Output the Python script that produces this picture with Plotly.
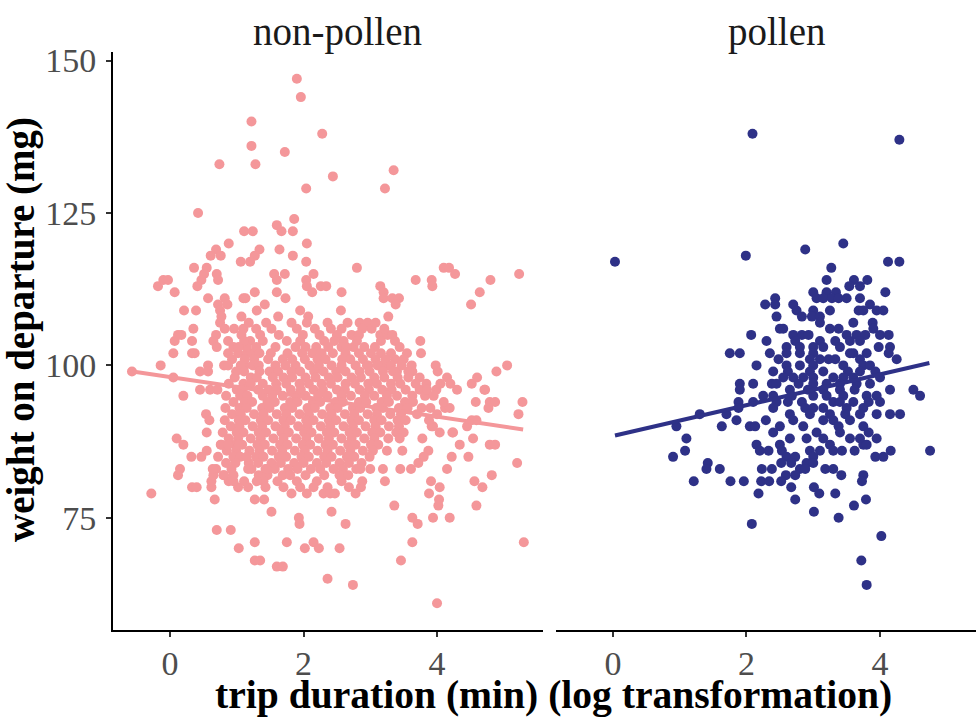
"""Trip duration vs weight on departure, faceted by pollen load."""

import plotly.graph_objects as go

# ---- data (duration on log scale, weight in mg) ----
nonpollen_upper = [
    (1.90, 147), (1.96, 144), (1.22, 140), (2.28, 138), (1.22, 136), (1.72, 135),
    (0.74, 133), (1.28, 133), (2.44, 131), (3.35, 132), (2.04, 129), (3.22, 129),
    (0.42, 125), (1.86, 124), (1.60, 123), (1.67, 122), (1.11, 122), (1.24, 122),
    (1.84, 122), (0.88, 120), (2.05, 120), (0.69, 119), (0.61, 118), (0.76, 118),
    (1.34, 119), (1.27, 118), (1.20, 117), (1.06, 117), (1.64, 119), (1.84, 118),
    (2.04, 117), (0.36, 116), (0.55, 116), (0.51, 115), (0.47, 114), (0.41, 113),
    (0.70, 115), (0.72, 114), (-0.18, 113), (-0.10, 114), (-0.03, 114), (0.07, 112),
    (1.56, 115), (1.72, 115), (1.60, 114), (1.60, 112), (2.15, 115), (2.04, 114),
    (2.05, 113), (2.13, 112), (2.26, 113), (2.34, 113), (1.27, 112), (2.57, 112),
    (0.57, 111), (0.21, 109), (0.39, 109), (2.80, 116), (2.56, 109), (1.73, 111),
    (1.10, 111), (1.13, 111), (0.82, 111), (1.42, 110), (1.30, 109), (0.72, 110),
    (0.86, 110), (1.95, 109), (2.07, 108), (1.62, 108), (1.07, 108), (3.68, 114),
    (3.92, 114), (3.93, 113), (4.10, 116), (4.18, 116), (4.27, 115), (5.23, 115),
    (4.80, 114), (4.64, 112), (4.51, 110), (3.15, 113), (3.20, 112), (3.20, 111),
    (3.33, 111), (3.43, 111), (3.38, 110), (3.27, 108), (2.84, 107), (2.96, 107),
    (0.75, 109), (0.77, 108), (0.75, 107),
]

nonpollen_middle = [
    (0.35, 106), (0.12, 105), (0.07, 104), (0.05, 102), (0.17, 105), (0.33, 104),
    (0.33, 102), (0.37, 102), (-0.14, 100), (0.05, 98), (0.45, 99), (0.57, 100),
    (0.57, 99), (0.81, 100), (0.87, 102), (0.69, 105), (0.65, 104), (0.70, 103),
    (0.82, 106), (0.87, 104), (0.95, 103), (1.02, 102), (1.15, 102), (1.22, 102),
    (1.12, 100), (1.10, 106), (1.20, 104), (1.15, 103), (3.02, 106), (3.15, 105),
    (3.26, 105), (3.16, 104), (3.75, 104), (3.76, 102), (3.37, 101), (3.40, 99),
    (3.63, 99), (4.01, 99), (2.95, 100), (3.14, 100), (3.26, 100), (4.52, 97),
    (4.60, 98), (4.72, 96), (4.89, 99), (5.05, 100), (2.57, 106), (2.50, 105),
    (2.60, 104), (2.72, 105), (2.75, 103), (2.57, 103), (-0.57, 99),
]

nonpollen_core_top = [
    (1.18, 107), (1.44, 107), (1.82, 107), (2.05, 107), (2.36, 107), (2.66, 107), (3.08, 107),
    (0.96, 106), (1.29, 106), (1.52, 106), (1.90, 106), (2.17, 106), (2.41, 106),
    (2.88, 106), (3.21, 106),
    (1.07, 105), (1.35, 105), (1.63, 105), (1.99, 105), (2.24, 105), (2.83, 105), (3.33, 105),
    (1.11, 104), (1.39, 104), (1.75, 104), (1.95, 104), (2.31, 104), (2.46, 104),
    (2.80, 104), (3.37, 104),
    (1.03, 103), (1.29, 103), (1.58, 103), (1.88, 103), (2.03, 103), (2.19, 103),
    (2.37, 103), (2.64, 103), (2.91, 103), (3.07, 103), (3.44, 103),
    (1.34, 102), (1.51, 102), (1.76, 102), (1.98, 102), (2.13, 102), (2.27, 102),
    (2.44, 102), (2.63, 102), (2.83, 102), (3.01, 102), (3.16, 102), (3.31, 102), (3.55, 102),
    (0.93, 101), (1.12, 101), (1.26, 101), (1.47, 101), (1.69, 101), (1.83, 101),
    (2.02, 101), (2.21, 101), (2.33, 101), (2.58, 101), (2.70, 101), (2.89, 101),
    (3.08, 101), (3.23, 101), (3.50, 101),
    (0.87, 100), (1.06, 100), (1.24, 100), (1.33, 100), (1.58, 100), (1.73, 100),
    (1.88, 100), (2.09, 100), (2.23, 100), (2.42, 100), (2.57, 100), (2.78, 100),
    (2.97, 100), (3.11, 100), (3.31, 100), (3.47, 100), (3.62, 100),
    (0.99, 99), (1.11, 99), (1.34, 99), (1.49, 99), (1.62, 99), (1.82, 99),
    (1.95, 99), (2.16, 99), (2.30, 99), (2.49, 99), (2.63, 99), (2.84, 99),
    (2.99, 99), (3.19, 99), (3.34, 99), (3.57, 99),
    (0.97, 98), (1.21, 98), (1.30, 98), (1.54, 98), (1.70, 98), (1.83, 98),
    (2.03, 98), (2.18, 98), (2.38, 98), (2.51, 98), (2.72, 98), (2.86, 98),
    (3.06, 98), (3.21, 98), (3.41, 98), (3.57, 98), (3.74, 98),
]

nonpollen_core_bottom = [
    (0.88, 97), (1.10, 97), (1.21, 97), (1.39, 97), (1.59, 97), (1.74, 97),
    (1.94, 97), (2.08, 97), (2.27, 97), (2.41, 97), (2.63, 97), (2.77, 97),
    (2.97, 97), (3.10, 97), (3.31, 97), (3.45, 97), (3.68, 97), (3.84, 97),
    (1.00, 96), (1.09, 96), (1.32, 96), (1.48, 96), (1.60, 96), (1.81, 96),
    (1.96, 96), (2.15, 96), (2.29, 96), (2.50, 96), (2.62, 96), (2.84, 96),
    (2.98, 96), (3.18, 96), (3.32, 96), (3.53, 96), (3.74, 96), (3.99, 96),
    (0.84, 95), (1.05, 95), (1.16, 95), (1.39, 95), (1.53, 95), (1.69, 95),
    (1.89, 95), (2.03, 95), (2.22, 95), (2.36, 95), (2.57, 95), (2.71, 95),
    (2.92, 95), (3.06, 95), (3.25, 95), (3.40, 95), (3.63, 95), (3.82, 95),
    (0.95, 94), (1.12, 94), (1.23, 94), (1.46, 94), (1.57, 94), (1.80, 94),
    (1.91, 94), (2.14, 94), (2.25, 94), (2.48, 94), (2.59, 94), (2.83, 94),
    (2.94, 94), (3.17, 94), (3.28, 94), (3.52, 94), (3.64, 94),
    (0.83, 93), (1.04, 93), (1.15, 93), (1.38, 93), (1.49, 93), (1.72, 93),
    (1.83, 93), (2.06, 93), (2.17, 93), (2.40, 93), (2.51, 93), (2.74, 93),
    (2.85, 93), (3.09, 93), (3.19, 93), (3.43, 93), (3.56, 93),
    (0.93, 92), (1.06, 92), (1.26, 92), (1.40, 92), (1.60, 92), (1.74, 92),
    (1.94, 92), (2.08, 92), (2.28, 92), (2.42, 92), (2.62, 92), (2.76, 92),
    (2.96, 92), (3.10, 92), (3.30, 92), (3.46, 92), (3.70, 92),
    (0.82, 91), (1.03, 91), (1.13, 91), (1.36, 91), (1.47, 91), (1.70, 91),
    (1.81, 91), (2.04, 91), (2.15, 91), (2.38, 91), (2.49, 91), (2.72, 91),
    (2.83, 91), (3.06, 91), (3.17, 91), (3.41, 91), (3.53, 91),
    (0.91, 90), (1.04, 90), (1.24, 90), (1.38, 90), (1.58, 90), (1.72, 90),
    (1.92, 90), (2.06, 90), (2.26, 90), (2.40, 90), (2.60, 90), (2.74, 90),
    (2.93, 90), (3.08, 90), (3.28, 90), (3.43, 90),
    (0.79, 89), (1.00, 89), (1.10, 89), (1.33, 89), (1.44, 89), (1.67, 89),
    (1.78, 89), (2.01, 89), (2.12, 89), (2.35, 89), (2.46, 89), (2.69, 89),
    (2.80, 89), (3.03, 89), (3.15, 89), (3.39, 89), (3.50, 89),
    (0.88, 88), (1.02, 88), (1.21, 88), (1.36, 88), (1.55, 88), (1.70, 88),
    (1.89, 88), (2.04, 88), (2.23, 88), (2.38, 88), (2.57, 88), (2.72, 88),
    (2.91, 88), (3.06, 88), (3.27, 88), (3.44, 88),
    (0.76, 87), (0.98, 87), (1.08, 87), (1.31, 87), (1.42, 87), (1.65, 87),
    (1.76, 87), (1.99, 87), (2.10, 87), (2.33, 87), (2.44, 87), (2.67, 87),
    (2.78, 87), (3.01, 87), (3.12, 87),
    (0.85, 86), (0.99, 86), (1.19, 86), (1.34, 86), (1.53, 86), (1.68, 86),
    (1.87, 86), (2.02, 86), (2.21, 86), (2.36, 86), (2.55, 86), (2.70, 86),
    (2.89, 86), (3.04, 86), (3.25, 86),
    (0.72, 85), (0.95, 85), (1.05, 85), (1.29, 85), (1.40, 85), (1.63, 85),
    (1.74, 85), (1.97, 85), (2.08, 85), (2.31, 85), (2.42, 85), (2.65, 85),
    (2.76, 85), (2.99, 85),
    (0.84, 84), (0.98, 84), (1.18, 84), (1.32, 84), (1.52, 84), (1.66, 84),
    (1.86, 84), (2.00, 84), (2.20, 84), (2.34, 84), (2.54, 84), (2.68, 84), (2.87, 84),
    (0.69, 83), (0.92, 83), (1.22, 83), (1.43, 83), (1.57, 83), (1.77, 83),
    (1.91, 83), (2.11, 83), (2.25, 83), (2.45, 83), (2.59, 83), (2.79, 83),
    (0.81, 82), (0.95, 82), (1.33, 82), (1.46, 82), (1.69, 82), (1.80, 82),
    (2.03, 82), (2.31, 82), (2.54, 82), (2.67, 82),
    (0.88, 81), (1.11, 81), (1.40, 81), (1.61, 81), (1.90, 81), (2.20, 81),
    (2.57, 81), (2.88, 81),
    (1.02, 80), (1.43, 80), (1.95, 80), (2.36, 80), (2.86, 80),
]

nonpollen_right = [
    (4.71, 96), (4.58, 94), (4.79, 94), (4.87, 94), (5.28, 94), (5.22, 92),
    (4.77, 93), (4.12, 93), (4.19, 93), (4.45, 90), (4.52, 91), (4.59, 91),
    (4.24, 89), (4.23, 89), (4.04, 89), (3.92, 90), (3.94, 90), (3.77, 93),
    (4.54, 88), (4.34, 87), (4.79, 87), (4.87, 87), (4.47, 85), (4.22, 85),
    (4.15, 83), (5.20, 84), (4.82, 82), (4.56, 81), (4.68, 80), (4.59, 77),
    (3.78, 88), (3.87, 86), (3.80, 85), (3.72, 84), (3.45, 83), (3.61, 83),
    (3.48, 86), (3.22, 81), (3.36, 77), (3.88, 79), (4.02, 77), (4.03, 78),
    (4.04, 80), (3.91, 81), (5.30, 71), (4.19, 75), (3.94, 75), (3.63, 75),
    (3.71, 74), (3.63, 71), (3.46, 68), (4.00, 61), (2.74, 64), (2.36, 65),
    (3.85, 96), (3.95, 95), (4.05, 97), (3.90, 93), (4.10, 94), (3.88, 91),
    (4.00, 92), (4.30, 96), (4.15, 98), (3.98, 100), (4.20, 97),
]

nonpollen_lower = [
    (-0.28, 79), (1.60, 67), (1.69, 67), (1.27, 68), (1.35, 68), (1.03, 70),
    (1.27, 71), (0.70, 73), (0.91, 73), (1.75, 71), (2.02, 70), (2.15, 71),
    (2.23, 70), (2.54, 70), (1.93, 75), (1.94, 74), (2.42, 76), (2.63, 74),
    (1.52, 76), (0.10, 88), (0.20, 87), (0.32, 85), (0.47, 85), (0.55, 86),
    (0.15, 83), (0.12, 82), (0.33, 80), (0.40, 80), (0.67, 78), (0.62, 80),
    (0.62, 81), (0.65, 82), (0.64, 83), (0.55, 89), (0.54, 92), (0.59, 91),
    (0.20, 95), (0.45, 96), (0.60, 96), (0.71, 96), (0.80, 82), (0.95, 81),
    (1.17, 80), (1.27, 78), (1.41, 78), (1.82, 79), (2.05, 79), (2.30, 79),
    (2.40, 79), (2.47, 79), (2.78, 79), (1.70, 80), (2.15, 80), (2.68, 80),
    (0.77, 87), (0.87, 87), (1.03, 87), (1.15, 85), (1.17, 83), (1.30, 81),
    (1.45, 83), (3.19, 83), (3.00, 83), (2.85, 83),
]

pollen_upper = [
    (0.03, 117), (1.99, 118), (2.88, 119), (3.45, 120), (4.12, 117), (4.29, 117),
    (2.09, 138), (4.29, 137), (3.27, 116),
    (3.20, 114), (3.61, 114), (3.81, 114), (3.54, 113), (3.70, 113),
    (3.00, 112), (3.20, 112), (3.34, 112), (4.08, 112),
    (3.05, 111), (3.15, 111), (3.28, 111), (3.38, 111), (3.50, 111), (3.70, 111),
    (2.43, 111), (2.43, 110), (2.28, 110), (2.70, 110), (3.85, 110),
    (2.75, 109), (3.25, 109), (3.68, 109), (3.75, 109), (3.95, 109), (4.05, 109),
    (3.00, 109), (2.83, 108), (2.98, 108), (3.10, 108), (2.45, 108), (3.10, 107),
    (3.89, 107), (3.60, 107),
    (2.50, 106), (2.55, 106), (3.38, 106), (3.90, 106), (3.25, 106),
    (2.70, 105), (2.83, 105), (2.93, 105), (3.50, 105), (3.65, 105), (3.78, 105),
    (4.00, 105), (4.13, 105), (2.07, 105),
    (2.30, 104), (2.73, 104), (3.10, 104), (3.33, 104), (3.55, 104), (3.70, 104),
    (2.80, 103), (3.00, 103), (3.40, 103), (3.98, 103), (4.15, 103), (3.15, 103),
    (2.60, 103),
    (1.75, 102), (1.90, 102), (2.35, 102), (2.60, 102), (2.80, 102), (3.00, 102),
    (3.60, 102), (3.80, 102), (4.13, 102), (3.55, 102),
    (2.48, 101), (3.10, 101), (3.23, 101), (3.33, 101), (3.70, 101), (4.25, 101),
    (2.95, 101),
    (2.15, 100), (2.60, 100), (2.80, 100), (3.00, 100), (3.45, 100), (3.75, 100),
    (3.85, 100),
]

pollen_lower = [
    (2.40, 99), (3.15, 99), (3.93, 99), (2.62, 99), (2.95, 99), (3.52, 99), (3.70, 99),
    (2.55, 98), (2.70, 98), (2.85, 98), (3.00, 98), (3.30, 98), (3.45, 98),
    (3.60, 98), (4.00, 98),
    (1.90, 97), (2.10, 97), (2.38, 97), (3.00, 97), (3.40, 97), (3.65, 97), (3.85, 97),
    (2.45, 97), (2.78, 97), (3.20, 97),
    (1.90, 96), (3.40, 96), (4.15, 96), (4.50, 96), (2.65, 96), (2.92, 96),
    (3.15, 96), (3.62, 96),
    (2.25, 95), (2.40, 95), (3.00, 95), (3.20, 95), (3.80, 95), (3.95, 95), (4.60, 95),
    (2.68, 95), (3.45, 95),
    (1.88, 94), (2.10, 94), (2.83, 94), (3.30, 94), (3.40, 94), (3.83, 94), (4.00, 94),
    (2.45, 94), (2.62, 94), (3.60, 94),
    (2.88, 93), (3.00, 93), (3.15, 93), (3.50, 93), (1.88, 93), (2.40, 93), (3.75, 93),
    (1.30, 92), (1.70, 92), (2.65, 92), (3.70, 92), (3.95, 92), (4.15, 92), (4.30, 92),
    (2.95, 92), (3.25, 92), (3.48, 92),
    (1.85, 91), (2.29, 91), (3.15, 91), (3.30, 91), (3.55, 91), (2.70, 91),
    (0.95, 90), (1.63, 90), (2.05, 90), (2.13, 90), (2.50, 90), (2.85, 90),
    (3.38, 90), (3.75, 90),
    (3.83, 89), (3.05, 89), (3.40, 89), (2.40, 89),
    (1.10, 88), (2.65, 88), (3.15, 88), (3.70, 88), (3.55, 88), (2.90, 88), (3.95, 88),
    (2.15, 87), (2.50, 87), (3.25, 87), (3.75, 87), (3.80, 87),
    (1.08, 86), (2.20, 86), (2.33, 86), (2.53, 86), (2.95, 86), (3.10, 86),
    (3.30, 86), (3.43, 86), (4.16, 86), (4.75, 86), (3.62, 86),
    (0.90, 85), (2.60, 85), (2.73, 85), (3.00, 85), (3.93, 85), (4.05, 85),
    (1.42, 84), (2.52, 84), (2.67, 84), (2.90, 84), (3.00, 84),
    (1.40, 83), (1.60, 83), (2.23, 83), (2.38, 83), (2.80, 83), (2.88, 83),
    (3.18, 83), (3.30, 83),
    (3.42, 82), (3.75, 82), (2.59, 82), (2.73, 82),
    (1.21, 81), (1.76, 81), (1.96, 81), (2.22, 81), (2.34, 81), (2.52, 81), (3.73, 81),
    (2.67, 80), (3.01, 80), (2.18, 79), (3.09, 79), (3.33, 79),
    (2.73, 78), (3.79, 78), (3.61, 77), (3.01, 76), (3.38, 75), (2.08, 74),
    (4.02, 72), (3.72, 68), (3.80, 64),
]

# linear fits (geom_smooth lm) end points
fit_nonpollen_x = [-0.56, 5.29]
fit_nonpollen_y = [99.0, 89.5]
fit_pollen_x = [0.03, 4.74]
fit_pollen_y = [88.5, 100.4]

panel_titles = ["non-pollen", "pollen"]
y_ticks = [75, 100, 125, 150]
x_ticks = [0, 2, 4]

PINK = "#F4979A"
NAVY = "#2E3187"
SERIF = "Liberation Serif"

nonpollen = (nonpollen_upper + nonpollen_middle + nonpollen_core_top
             + nonpollen_core_bottom + nonpollen_right + nonpollen_lower)
pollen = pollen_upper + pollen_lower

fig = go.Figure()

fig.add_trace(go.Scatter(
    x=[p[0] for p in nonpollen], y=[p[1] for p in nonpollen],
    mode="markers", marker=dict(color=PINK, size=10, line=dict(width=0)),
    xaxis="x", yaxis="y", showlegend=False,
))
fig.add_trace(go.Scatter(
    x=fit_nonpollen_x, y=fit_nonpollen_y, mode="lines",
    line=dict(color=PINK, width=4), xaxis="x", yaxis="y", showlegend=False,
))
fig.add_trace(go.Scatter(
    x=[p[0] for p in pollen], y=[p[1] for p in pollen],
    mode="markers", marker=dict(color=NAVY, size=10, line=dict(width=0)),
    xaxis="x2", yaxis="y2", showlegend=False,
))
fig.add_trace(go.Scatter(
    x=fit_pollen_x, y=fit_pollen_y, mode="lines",
    line=dict(color=NAVY, width=4), xaxis="x2", yaxis="y2", showlegend=False,
))

tick_font = dict(family=SERIF, size=34, color="#4D4D4D")
x_common = dict(
    showgrid=False, zeroline=False, showline=True, linecolor="black", linewidth=2,
    ticks="outside", ticklen=5, tickwidth=2, tickcolor="#333333",
    tickvals=x_ticks, tickfont=tick_font, ticklabelstandoff=-3, automargin=False,
)

fig.update_layout(
    width=976, height=717,
    margin=dict(l=113, r=0, t=52, b=87),
    plot_bgcolor="white", paper_bgcolor="white",
    xaxis=dict(domain=[0, 0.4983], range=[-0.854, 5.588], anchor="y", **x_common),
    xaxis2=dict(domain=[0.5133, 1], range=[-0.854, 5.438], anchor="y2", **x_common),
    yaxis=dict(
        range=[56.6, 151.4], showgrid=False, zeroline=False, showline=True,
        linecolor="black", linewidth=2, ticks="outside", ticklen=5, tickwidth=2,
        tickcolor="#333333", tickvals=y_ticks, tickfont=tick_font,
        ticklabelstandoff=3, anchor="x", automargin=False,
    ),
    yaxis2=dict(
        range=[56.6, 151.4], matches="y", showgrid=False, zeroline=False,
        showline=False, ticks="", showticklabels=False, anchor="x2", automargin=False,
    ),
    annotations=[
        dict(text=panel_titles[0], x=0.2596, y=1.0346, xref="paper", yref="paper",
             showarrow=False, xanchor="center", yanchor="middle",
             font=dict(family=SERIF, size=39, color="#1A1A1A")),
        dict(text=panel_titles[1], x=0.7694, y=1.0346, xref="paper", yref="paper",
             showarrow=False, xanchor="center", yanchor="middle",
             font=dict(family=SERIF, size=39, color="#1A1A1A")),
        dict(text="<b>trip duration (min) (log transformation)</b>", x=0.511, y=-0.113,
             xref="paper", yref="paper", showarrow=False, xanchor="center",
             yanchor="middle", font=dict(family=SERIF, size=39.6, color="black")),
        dict(text="<b>weight on departure (mg)</b>", x=-0.1066, y=0.519,
             xref="paper", yref="paper", showarrow=False, textangle=-90,
             xanchor="center", yanchor="middle",
             font=dict(family=SERIF, size=39, color="black")),
    ],
)

# the page's default body margin would shift the figure by 8px
fig.write_html("out.html", config={"displayModeBar": False},
               post_script="document.body.style.margin='0';")
